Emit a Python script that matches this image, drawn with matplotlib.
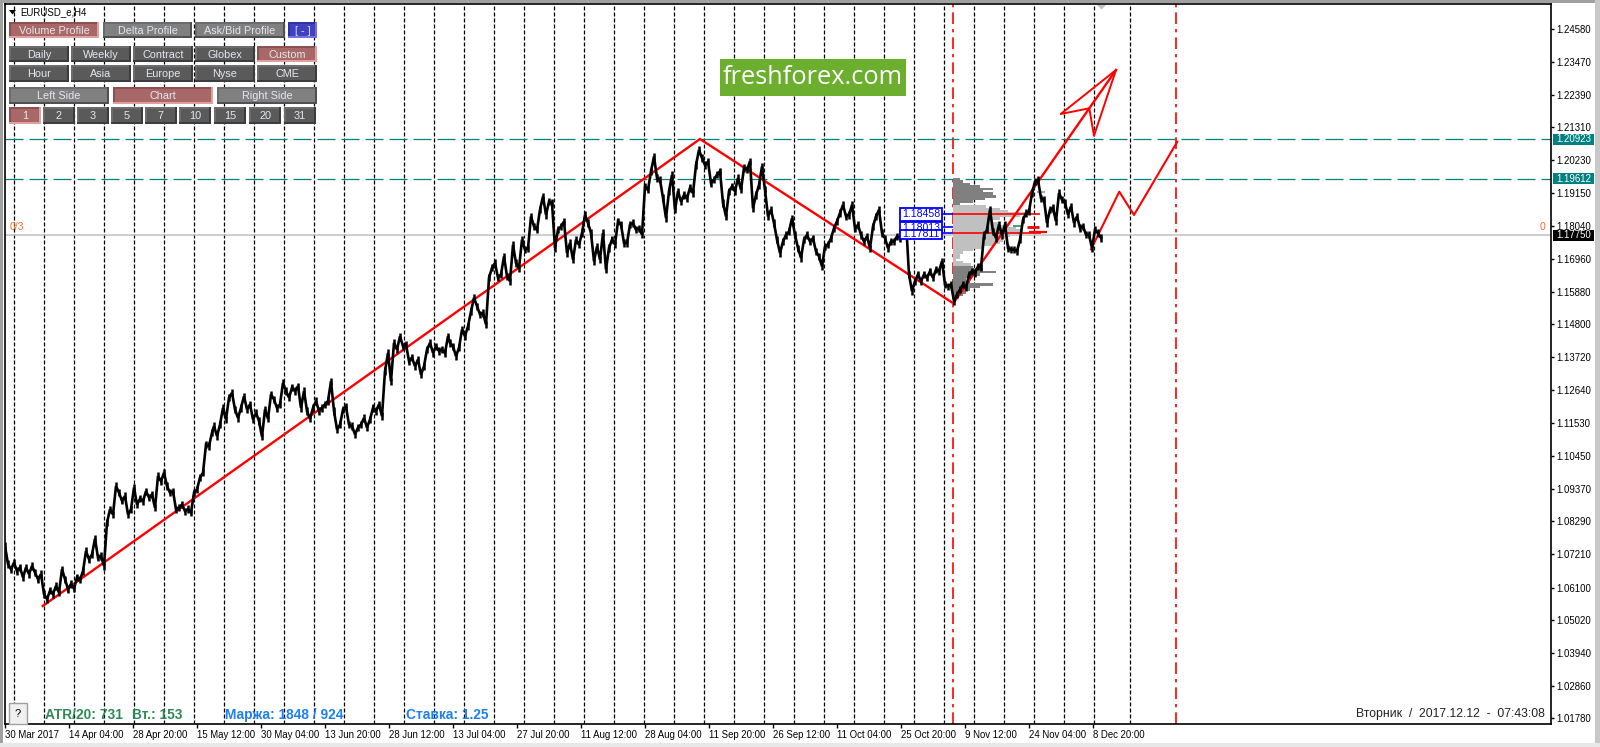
import matplotlib
matplotlib.use("Agg")
import matplotlib.pyplot as plt
from matplotlib.patches import Rectangle, Polygon

plt.rcParams['font.family'] = ['Liberation Sans', 'DejaVu Sans']

W, H = 1600, 747

# price, every 3 bars, one list per stretch of the chart
seg1 = [1.0748, 1.0688, 1.0671, 1.0693, 1.0665, 1.0677, 1.0644, 1.0677, 1.0655, 1.0682,
        1.0660, 1.0638, 1.0655, 1.0589, 1.0572, 1.0600, 1.0589, 1.0616, 1.0594, 1.0671,
        1.0638, 1.0605, 1.0622, 1.0607, 1.0644, 1.0636, 1.0665, 1.0731, 1.0704, 1.0720,
        1.0772, 1.0709, 1.0715, 1.0682, 1.0825, 1.0869, 1.0852, 1.0946, 1.0924, 1.0897,
        1.0913, 1.0852, 1.0869, 1.0941, 1.0885, 1.0904, 1.0896, 1.0929, 1.0908, 1.0918,
        1.0874, 1.0979, 1.0962, 1.0990, 1.0946, 1.0924, 1.0929, 1.0869, 1.0874, 1.0885,
        1.0863, 1.0870, 1.0858, 1.0924, 1.0935, 1.0974, 1.0990, 1.1083, 1.1078, 1.1122]
seg2 = [1.1144, 1.1111, 1.1149, 1.1204, 1.1166, 1.1238, 1.1254, 1.1199, 1.1171, 1.1204,
        1.1243, 1.1199, 1.1216, 1.1166, 1.1188, 1.1161, 1.1109, 1.1199, 1.1168, 1.1249,
        1.1232, 1.1204, 1.1216, 1.1287, 1.1260, 1.1238, 1.1271, 1.1260, 1.1276, 1.1204,
        1.1260, 1.1194, 1.1168, 1.1204, 1.1227, 1.1194, 1.1204, 1.1216, 1.1227, 1.1292,
        1.1194, 1.1133, 1.1149, 1.1199, 1.1208, 1.1149, 1.1144, 1.1117, 1.1139, 1.1149,
        1.1171, 1.1139, 1.1166, 1.1204, 1.1194, 1.1216, 1.1177, 1.1326, 1.1386, 1.1292,
        1.1419, 1.1397, 1.1441, 1.1408, 1.1414, 1.1359, 1.1370, 1.1342, 1.1364, 1.1314,
        1.1342, 1.1397, 1.1419, 1.1386, 1.1408, 1.1392, 1.1397, 1.1386, 1.1441]
seg3 = [1.1419, 1.1408, 1.1375, 1.1403, 1.1463, 1.1441, 1.1474, 1.1523, 1.1568, 1.1540,
        1.1513, 1.1518, 1.1480, 1.1634, 1.1667, 1.1683, 1.1634, 1.1645, 1.1705, 1.1639,
        1.1623, 1.1743, 1.1683, 1.1666, 1.1760, 1.1727, 1.1732, 1.1837, 1.1804, 1.1793,
        1.1859, 1.1903, 1.1842, 1.1886, 1.1881, 1.1733, 1.1793, 1.1804, 1.1820, 1.1716,
        1.1749, 1.1694, 1.1760, 1.1743, 1.1782, 1.1842, 1.1815, 1.1782, 1.1689, 1.1738,
        1.1694, 1.1782, 1.1661, 1.1733, 1.1760, 1.1744, 1.1821, 1.1810, 1.1749, 1.1749,
        1.1810, 1.1815, 1.1793, 1.1798, 1.1777]
seg4 = [1.1936, 1.1925, 1.1986, 1.2035, 1.1964, 1.1958, 1.1898, 1.1831, 1.1920, 1.1974,
        1.1859, 1.1920, 1.1886, 1.1908, 1.1898, 1.1931, 1.1914, 1.2007, 1.2057, 1.2030,
        1.2007, 1.2018, 1.1947, 1.1958, 1.1975, 1.1986, 1.1881, 1.1837, 1.1920, 1.1936,
        1.1920, 1.1964, 1.1925, 1.1997, 1.1991, 1.2019, 1.1864, 1.1908, 1.1941, 1.2002,
        1.1925, 1.1837, 1.1859, 1.1815, 1.1760, 1.1716, 1.1754, 1.1776, 1.1787, 1.1831,
        1.1776, 1.1732, 1.1700, 1.1760, 1.1776, 1.1754, 1.1765, 1.1721, 1.1705, 1.1672,
        1.1738, 1.1743, 1.1765, 1.1798, 1.1821, 1.1848, 1.1875, 1.1837, 1.1842, 1.1875,
        1.1798, 1.1809, 1.1776, 1.1754, 1.1771, 1.1732, 1.1804, 1.1837, 1.1859, 1.1782,
        1.1765, 1.1732, 1.1754, 1.1754, 1.1771]
seg5 = [1.1766, 1.1832, 1.1821, 1.1645, 1.1590, 1.1623, 1.1645, 1.1623, 1.1645, 1.1634,
        1.1656, 1.1634, 1.1661, 1.1656, 1.1689, 1.1612, 1.1606, 1.1612, 1.1557, 1.1579,
        1.1595, 1.1612, 1.1601, 1.1645, 1.1656, 1.1650, 1.1672, 1.1667, 1.1776, 1.1793,
        1.1859, 1.1787, 1.1766, 1.1810, 1.1776, 1.1810, 1.1732, 1.1727, 1.1727, 1.1722,
        1.1760, 1.1826, 1.1848, 1.1853, 1.1914, 1.1952, 1.1958, 1.1897, 1.1892, 1.1815,
        1.1859, 1.1865, 1.1821, 1.1914, 1.1892, 1.1881, 1.1843, 1.1870, 1.1815, 1.1837,
        1.1799, 1.1804, 1.1777, 1.1777, 1.1732, 1.1793, 1.1782, 1.1766]
seg_starts = [0, 209, 445, 640, 895]

wave_bars = [37.7, 695, 948.3, 1111]
wave_prices = [1.05495, 1.20928, 1.15499, 1.23209]
arrow_bars = [1111, 1055.7, 1084.3, 1089]
arrow_prices = [1.23209, 1.21754, 1.21943, 1.21037]
forecast_bars = [1086, 1114.3, 1129, 1172.3]
forecast_prices = [1.17283, 1.19187, 1.18417, 1.20839]

level_prices = [1.20923, 1.19612]
last_price = 1.17750
y_ticks = [1.24580, 1.23470, 1.22390, 1.21310, 1.20230, 1.19150, 1.18040, 1.16960, 1.15880,
           1.14800, 1.13720, 1.12640, 1.11530, 1.10450, 1.09370, 1.08290, 1.07210, 1.06100,
           1.05020, 1.03940, 1.02860, 1.01780]
x_labels = ['30 Mar 2017', '14 Apr 04:00', '28 Apr 20:00', '15 May 12:00', '30 May 04:00',
            '13 Jun 20:00', '28 Jun 12:00', '13 Jul 04:00', '27 Jul 20:00', '11 Aug 12:00',
            '28 Aug 04:00', '11 Sep 20:00', '26 Sep 12:00', '11 Oct 04:00', '25 Oct 20:00',
            '9 Nov 12:00', '24 Nov 04:00', '8 Dec 20:00']
x_label_bars = [0, 64, 128, 192, 256, 320, 384, 448, 512, 576, 640, 704, 768, 832, 896, 960,
                1024, 1088]
separator_bars = [9.3, 39.3, 69.3, 99.3, 129.3, 159.3, 189.3, 219.3, 249.3, 279.3, 309.3, 339.3,
                  369.3, 399.3, 429.3, 459.3, 489.3, 519.3, 549.3, 579.3, 609.3, 639.3, 669.3,
                  699.3, 729.3, 759.3, 789.3, 819.3, 849.3, 879.3, 909.3, 939.3, 969.3, 999.3,
                  1029.3, 1059.3, 1089.3, 1125.3]
red_vlines = [948.3, 1171.3]

# volume profile, levels from top to bottom
vp_prices = [1.1960, 1.1952, 1.1944, 1.1936, 1.1927, 1.1920, 1.1912, 1.1903, 1.1894, 1.1886,
             1.1878, 1.1870, 1.1862, 1.1854, 1.1846, 1.1838, 1.1830, 1.1822, 1.1814, 1.1806,
             1.1798, 1.1790, 1.1782, 1.1774, 1.1766, 1.1758, 1.1750, 1.1742, 1.1734, 1.1726,
             1.1718, 1.1710, 1.1702, 1.1694, 1.1686, 1.1678, 1.1670, 1.1661, 1.1653,
             1.1645, 1.1637, 1.1629, 1.1620, 1.1612, 1.1604, 1.1595, 1.1586, 1.1578]
vp_volumes = [7, 10, 17, 27, 40, 30, 40, 43, 32, 20, 7, 33, 47, 55, 72, 67, 47, 40, 47, 53,
              63, 70, 67, 57, 53, 50, 47, 40, 30, 20, 10, 7, 7, 3, 10, 18, 20, 30, 43,
              27, 17, 13, 17, 40, 27, 17, 13, 10]
vp_dark_count_top = 11
vp_dark_count_bottom = 12
poc_prices = [1.18458, 1.18013, 1.17811]
poc_lengths = [87, 80, 88]
poc_text = ['1.18458', '1.18013', '1.17811']
poc_box_tops = [208.3, 221.7, 230]
poc_box_bottoms = [220.7, 232.5, 239]

fig = plt.figure(figsize=(W / 100, H / 100), dpi=100, facecolor='white')

# overlay in pixels for window frame and the panel buttons
ov = fig.add_axes([0, 0, 1, 1], zorder=5)
ov.set_xlim(0, W)
ov.set_ylim(H, 0)
ov.axis('off')
ov.patch.set_alpha(0)

ax = fig.add_axes([5 / W, 1 - 724 / H, (1551 - 5) / W, (724 - 4) / H], zorder=1)
ax.set_xlim(0, 1546)
ax.set_ylim(1.2458 - (724 - 28.5) / 3026, 1.2458 + (28.5 - 4) / 3026)
for s in ax.spines.values():
    s.set_linewidth(1.2)
    s.set_color('black')

# session separators
for b in separator_bars:
    ax.axvline(b, color='black', lw=0.9, dashes=(3.2, 1.6), zorder=1)
for b in red_vlines:
    ax.axvline(b, color='#ff0000', lw=1.2, dashes=(7, 3, 2, 3), zorder=2)

for p in level_prices:
    ax.axhline(p, color='#008080', lw=0.9, dashes=(14.4, 4.8), zorder=2)
ax.axhline(last_price, color='#c0c0c0', lw=1.1, zorder=1)

# volume profile
n = len(vp_prices)
for i in range(n):
    dark = i < vp_dark_count_top or i >= n - vp_dark_count_bottom
    ax.barh(vp_prices[i], vp_volumes[i], left=948.3, height=0.00085,
            color='#808080' if dark else '#c0c0c0', lw=0, zorder=2)

# poc lines
ax.hlines(poc_prices[0], 948.3, 948.3 + poc_lengths[0], color='#ff0000', lw=1.2, zorder=3)
ax.hlines(poc_prices[2], 948.3, 948.3 + poc_lengths[2], color='#ff0000', lw=1.2, zorder=3)
ax.hlines(poc_prices[1], 1022, 1034, color='#ff0000', lw=2, zorder=3)
ax.hlines(poc_prices[2] + 0.0004, 1024, 1042, color='#ff0000', lw=1.6, zorder=3)
ax.hlines(poc_prices[1] + 0.0003, 1008, 1018, color='#2e8b57', lw=1.2, zorder=3)
ax.hlines(1.1919, 1032, 1040, color='#8fbc8f', lw=1.5, zorder=3)
ax.hlines(poc_prices, 936, 948.3, color='#0000ff', lw=1.2, zorder=3)

# wave lines
ax.plot(wave_bars, wave_prices, color='#ff0000', lw=1.7, zorder=3, solid_joinstyle='miter')
ax.plot(arrow_bars + [arrow_bars[0]], arrow_prices + [arrow_prices[0]], color='#ff0000', lw=1.4, zorder=3)
ax.plot(forecast_bars, forecast_prices, color='#ff0000', lw=1.5, zorder=3)

# price line, short vertical wicks give it the bar chart weight
bars, close = [], []
for start, seg in zip(seg_starts, [seg1, seg2, seg3, seg4, seg5]):
    for k, v in enumerate(seg):
        bars.append(start + 3 * k)
        close.append(v)
ax.plot(bars, close, color='black', lw=1.9, zorder=4, solid_joinstyle='miter')
wick = 0.0012
ax.vlines(bars, [c - wick for c in close], [c + wick for c in close], color='black', lw=1.8, zorder=4)

ax.set_xticks(x_label_bars)
ax.set_xticklabels(x_labels, ha='left', fontsize=6.9, color='black')
ax.tick_params(axis='x', length=3, width=1, pad=1)
ax.yaxis.tick_right()
ax.set_yticks(y_ticks)
ax.set_yticklabels([f'{t:.5f}' for t in y_ticks], fontsize=6.9)
ax.tick_params(axis='y', length=2, width=1, pad=1.5)


def button(x0, y0, x1, y1, text, fill, dark, light, size=7.8):
    # bevel: dark on top and left, light on bottom and right
    ov.add_patch(Rectangle((x0, y0), x1 - x0, y1 - y0, fc=light, ec='none'))
    ov.add_patch(Rectangle((x0, y0), x1 - x0 - 2, y1 - y0 - 2, fc=dark, ec='none'))
    ov.add_patch(Rectangle((x0 + 2, y0 + 2), x1 - x0 - 4, y1 - y0 - 4, fc=fill, ec='none'))
    ov.text((x0 + x1) / 2, (y0 + y1) / 2 + 0.5, text, color='#e4e8ee', ha='center', va='center', fontsize=size)


RED = ('#a86868', '#8c5050', '#e0a0a0')
GREY = ('#808080', '#6c6c6c', '#505050')
DARK = ('#5a5a5a', '#6c6c6c', '#3c3c3c')
BLUE = ('#4040c0', '#3030a0', '#7070e0')

button(9, 22, 99, 38, 'Volume Profile', *RED)
button(103, 22, 192, 38, 'Delta Profile', *GREY)
button(195, 22, 285, 38, 'Ask/Bid Profile', *GREY)
button(288, 22, 317, 38, '[ - ]', *BLUE)
row2 = ['Daily', 'Weekly', 'Contract', 'Globex', 'Custom']
row3 = ['Hour', 'Asia', 'Europe', 'Nyse', 'CME']
col_x = [9, 71, 133, 195, 257]
for i in range(5):
    button(col_x[i], 46, col_x[i] + 60, 62, row2[i], *(RED if row2[i] == 'Custom' else DARK))
    button(col_x[i], 65, col_x[i] + 60, 82, row3[i], *DARK)
button(9, 87, 109, 104, 'Left Side', *GREY)
button(113, 87, 213, 104, 'Chart', *RED)
button(217, 87, 317, 104, 'Right Side', *GREY)
nums = ['1', '2', '3', '5', '7', '10', '15', '20', '31']
num_x = [9, 43, 77, 111, 145, 179, 214, 249, 284]
for i in range(9):
    button(num_x[i], 107, num_x[i] + 32, 124, nums[i], *(RED if i == 0 else DARK))

ov.text(20, 12.5, 'EURUSD_e,H4', fontsize=6.9, va='center', ha='left', color='black')
ov.add_patch(Polygon([[9, 10], [16, 10], [12.5, 14.5]], fc='black', ec='none'))

# logo
ov.add_patch(Rectangle((720, 59), 186, 37, fc='#6cae2e', ec='none'))
ov.text(813, 77.5, 'freshforex.com', color='white', fontsize=18.3, ha='center', va='center', family='Open Sans')

# shift marker at the top
ov.add_patch(Polygon([[1097, 5], [1106, 5], [1101.5, 9.5]], fc='#c0c0c0', ec='none'))

# labels on the price scale
for p, txt, bg in [(1.20923, '1.20923', '#008080'), (1.19612, '1.19612', '#008080'), (1.17750, '1.17750', 'black')]:
    yp = 28.5 + (1.2458 - p) * 3026
    ov.add_patch(Rectangle((1553, yp - 5.5), 41, 11, fc=bg, ec='none'))
    ov.text(1573.5, yp, txt, color='white', fontsize=6.9, ha='center', va='center')

ov.text(10, 227, '0/3', color='#ff6a2a', fontsize=7.6, ha='left', va='center')
ov.text(1543, 227, '0', color='#ff6a2a', fontsize=7.6, ha='center', va='center')

# blue level boxes, each one covers the one before it like in the terminal
for i in range(3):
    yp = 28.5 + (1.2458 - poc_prices[i]) * 3026
    ov.add_patch(Rectangle((899.5, poc_box_tops[i]), 42, poc_box_bottoms[i] - poc_box_tops[i],
                           fc='white', ec='#0000ff', lw=1.3, zorder=10 + 2 * i))
    ov.text(921, yp + 0.5, poc_text[i], color='#0000ff', fontsize=7.6, ha='center', va='center', zorder=11 + 2 * i)

# status texts
ov.add_patch(Rectangle((8.7, 703), 18, 21, fc='#f0f0f0', ec='#a0a0a0', lw=1))
ov.text(17.5, 714, '?', fontsize=8, ha='center', va='center', color='black')
ov.text(45, 715, 'ATR/20: 731', color='#2e8b57', fontsize=9.9, weight='bold', va='center')
ov.text(132, 715, 'Вт.: 153', color='#2e8b57', fontsize=9.9, weight='bold', va='center')
ov.text(225, 715, 'Маржа: 1848 / 924', color='#1e80f0', fontsize=9.9, weight='bold', va='center')
ov.text(406, 715, 'Ставка: 1.25', color='#1e80f0', fontsize=9.9, weight='bold', va='center')
ov.text(1545, 714.5, 'Вторник  /  2017.12.12  -  07:43:08', color='#222222', fontsize=8.8, ha='right', va='center')

# window frame
ov.add_patch(Rectangle((0, 0), W, 3, fc='#a0a0a0', ec='none'))
ov.add_patch(Rectangle((0, 0), 3, H, fc='#a0a0a0', ec='none'))
ov.add_patch(Rectangle((1595, 0), 5, H, fc='#c8c8c8', ec='none'))
ov.add_patch(Rectangle((0, 743), W, 4, fc='#e8e8e8', ec='none'))

fig.savefig('out.png', dpi=100)
